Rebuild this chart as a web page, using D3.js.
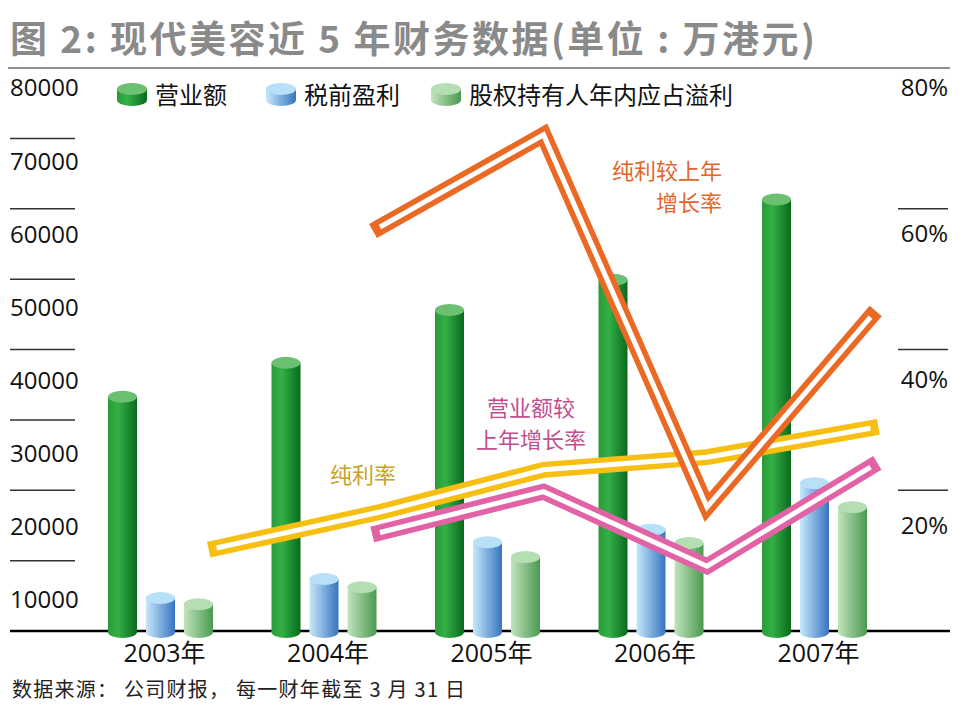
<!DOCTYPE html>
<html>
<head>
<meta charset="utf-8">
<script src="https://cdn.jsdelivr.net/npm/d3@7"></script>
<style>
  body { margin: 0; background: #fff; }
  svg { display: block; }
  text { font-family: 'Open Sans', 'Noto Sans CJK SC', sans-serif; }
  .cjk { font-family: 'Noto Sans CJK SC', sans-serif; }
</style>
</head>
<body>
<svg id="chart" width="966" height="714"></svg>
<script>
// Data (万港元 / %)
const YEARS = ['2003年', '2004年', '2005年', '2006年', '2007年'];
const REVENUE = [33300, 38100, 45600, 49900, 61300];           // 营业额
const PRETAX_PROFIT = [4700, 7400, 12600, 14400, 21000];       // 税前盈利
const ATTRIB_PROFIT = [3800, 6200, 10500, 12500, 17600];       // 股权持有人年内应占溢利
const NET_MARGIN = [11.8, 16.9, 22.9, 24.7, 28.8];             // 纯利率
const REVENUE_GROWTH = [null, 14.0, 19.8, 9.2, 23.3];          // 营业额较上年增长率
const PROFIT_GROWTH = [null, 57.4, 70.5, 17.6, 44.6];          // 纯利较上年增长率

const LEFT_TICKS = [10000, 20000, 30000, 40000, 50000, 60000, 70000, 80000];
const RIGHT_TICKS = [20, 40, 60, 80];
const SERIES_NAMES = ['营业额', '税前盈利', '股权持有人年内应占溢利'];

const W = 966, H = 714;
const BASE_Y = 631, TOP_Y = 68;

const svg = d3.select('#chart');

//////////////
// Scales   //
//////////////

const x0 = d3.scaleBand().domain(YEARS).range([78.75, 896.25]);
const x1 = d3.scaleBand().domain(SERIES_NAMES)
  .range([x0.bandwidth() / 2 - 52.5, x0.bandwidth() / 2 + 52.5])
  .paddingInner(0.237);
const yLeft = d3.scaleLinear().domain([0, 80000]).range([BASE_Y, TOP_Y]);
const yRight = d3.scaleLinear().domain([0, 80]).range([BASE_Y, TOP_Y]);
// tick labels in the original sit a little under their rules and drift
const yLeftLabel = d3.scaleLinear().domain([10000, 80000]).range([600, 88]);
const yRightLabel = d3.scaleLinear().domain([20, 80]).range([526, 88]);
const xLine = d => x0(d) + x0.bandwidth() / 2 + 56;

///////////////
// Gradients //
///////////////

const defs = svg.append('defs');
const PALETTE = [
  { stops: [['0%', '#2a9a39'], ['35%', '#33b046'], ['100%', '#0a6a1e']], top: '#6cc071' },
  { stops: [['0%', '#c6e8fb'], ['100%', '#3774c0']], top: '#b9e0f9' },
  { stops: [['0%', '#c2e4bd'], ['100%', '#4a9950']], top: '#b5deb3' }
];
PALETTE.forEach((p, i) => {
  const g = defs.append('linearGradient').attr('id', 'cyl' + i)
    .attr('x1', 0).attr('x2', 1).attr('y1', 0).attr('y2', 0);
  p.stops.forEach(s => g.append('stop').attr('offset', s[0]).attr('stop-color', s[1]));
});

///////////
// Title //
///////////

svg.append('text')
  .attr('class', 'cjk')
  .attr('x', 10).attr('y', 53)
  .attr('font-size', 37).attr('font-weight', 700)
  .attr('fill', '#8a8a8a')
  .attr('textLength', 805)
  .attr('lengthAdjust', 'spacing')
  .text('图 2: 现代美容近 5 年财务数据(单位 : 万港元)');

svg.append('line')
  .attr('x1', 8).attr('x2', 950)
  .attr('y1', yLeft(80000)).attr('y2', yLeft(80000))
  .attr('stroke', '#8f8f8f').attr('stroke-width', 2);

//////////
// Axes //
//////////

const axes = svg.append('g');

axes.selectAll('line.lt')
  .data(LEFT_TICKS.filter(v => v < 80000))
  .enter().append('line')
    .attr('x1', 10).attr('x2', 75)
    .attr('y1', d => yLeft(d)).attr('y2', d => yLeft(d))
    .attr('stroke', '#333').attr('stroke-width', 1.5);

axes.selectAll('text.lt')
  .data(LEFT_TICKS)
  .enter().append('text')
    .attr('x', 10)
    .attr('y', d => yLeftLabel(d))
    .attr('dy', '0.35em')
    .attr('font-size', 24)
    .attr('fill', '#111')
    .text(d => d);

axes.selectAll('line.rt')
  .data(RIGHT_TICKS.filter(v => v < 80))
  .enter().append('line')
    .attr('x1', 898).attr('x2', 948)
    .attr('y1', d => yRight(d)).attr('y2', d => yRight(d))
    .attr('stroke', '#333').attr('stroke-width', 1.5);

axes.selectAll('text.rt')
  .data(RIGHT_TICKS)
  .enter().append('text')
    .attr('x', 948)
    .attr('y', d => yRightLabel(d))
    .attr('dy', '0.35em')
    .attr('text-anchor', 'end')
    .attr('font-size', 24)
    .attr('fill', '#111')
    .text(d => d + '%');

axes.append('line')
  .attr('x1', 10).attr('x2', 950)
  .attr('y1', BASE_Y).attr('y2', BASE_Y)
  .attr('stroke', '#000').attr('stroke-width', 2.5);

axes.selectAll('text.xl')
  .data(YEARS)
  .enter().append('text')
    .attr('x', d => x0(d) + x0.bandwidth() / 2 + 4)
    .attr('y', 662)
    .attr('text-anchor', 'middle')
    .attr('font-size', 25)
    .attr('fill', '#111')
    .text(d => d);

////////////////////
// Cylinder bars  //
////////////////////

const SERIES = [REVENUE, PRETAX_PROFIT, ATTRIB_PROFIT];
const RY = 6;

function drawCylinder(g, x, w, yTop, yBottom, i) {
  const rx = w / 2;
  g.append('ellipse')
    .attr('cx', x + rx).attr('cy', yBottom)
    .attr('rx', rx).attr('ry', RY)
    .attr('fill', `url(#cyl${i})`);
  g.append('rect')
    .attr('x', x).attr('y', yTop)
    .attr('width', w).attr('height', yBottom - yTop)
    .attr('fill', `url(#cyl${i})`);
  g.append('ellipse')
    .attr('cx', x + rx).attr('cy', yTop)
    .attr('rx', rx).attr('ry', RY)
    .attr('fill', PALETTE[i].top);
}

const bars = svg.append('g');
YEARS.forEach((yr, j) => {
  SERIES.forEach((s, i) => {
    drawCylinder(bars, x0(yr) + x1(SERIES_NAMES[i]), x1.bandwidth(),
      yLeft(s[j]), yLeft(0) + 1, i);
  });
});

////////////
// Legend //
////////////

const LEGEND_X = [117, 266, 431];
const legend = svg.append('g');
SERIES_NAMES.forEach((name, i) => {
  drawCylinder(legend, LEGEND_X[i], 30, 89, 100, i);
  legend.append('text')
    .attr('class', 'cjk')
    .attr('x', LEGEND_X[i] + 38).attr('y', 95)
    .attr('dy', '0.36em')
    .attr('font-size', 24)
    .attr('fill', '#111')
    .text(name);
});

///////////
// Lines //
///////////

const LINES = [
  { values: NET_MARGIN, color: '#f6bf12' },
  { values: REVENUE_GROWTH, color: '#e263a5' },
  { values: PROFIT_GROWTH, color: '#ea6a25' }
];

const lineGen = d3.line()
  .defined(d => d.v !== null)
  .x(d => xLine(d.year))
  .y(d => yRight(d.v));

const lines = svg.append('g');
LINES.forEach(l => {
  const pts = YEARS.map((year, j) => ({ year, v: l.values[j] }));
  lines.append('path')
    .attr('d', lineGen(pts))
    .attr('fill', 'none')
    .attr('stroke', l.color)
    .attr('stroke-width', 16)
    .attr('stroke-linecap', 'square')
    .attr('stroke-linejoin', 'miter')
    .attr('stroke-miterlimit', 10);
  lines.append('path')
    .attr('d', lineGen(pts))
    .attr('fill', 'none')
    .attr('stroke', '#fff')
    .attr('stroke-width', 5)
    .attr('stroke-linejoin', 'miter')
    .attr('stroke-miterlimit', 10);
});

/////////////////
// Annotations //
/////////////////

function note(rows, x, y, anchor, color) {
  rows.forEach((s, k) => {
    svg.append('text')
      .attr('class', 'cjk')
      .attr('font-size', 22)
      .attr('text-anchor', anchor)
      .attr('fill', color)
      .attr('x', x).attr('y', y + k * 32)
      .text(s);
  });
}

note(['纯利较上年', '增长率'], 722, 179, 'end', '#e0662a');
note(['营业额较', '上年增长率'], 531, 416, 'middle', '#c24e90');
note(['纯利率'], 330, 483, 'start', '#c9a226');

////////////
// Footer //
////////////

svg.append('text')
  .attr('class', 'cjk')
  .attr('x', 12).attr('y', 697)
  .attr('font-size', 20)
  .attr('fill', '#222')
  .attr('textLength', 453)
  .attr('lengthAdjust', 'spacing')
  .text('数据来源： 公司财报， 每一财年截至 3 月 31 日');
</script>
</body>
</html>
